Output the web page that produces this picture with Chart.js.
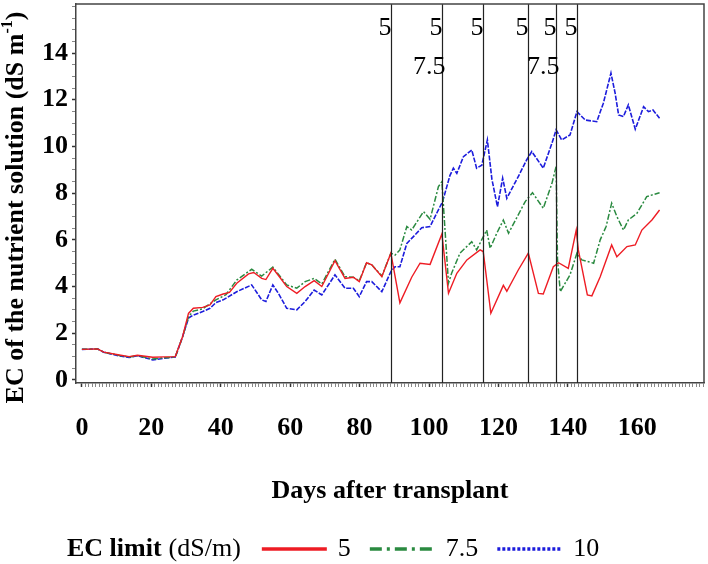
<!DOCTYPE html>
<html>
<head>
<meta charset="utf-8">
<script src="https://cdn.jsdelivr.net/npm/chart.js@4.4.1/dist/chart.umd.min.js"></script>
<style>
  html, body { margin: 0; padding: 0; background: #fff; }
  canvas { display: block; }
</style>
</head>
<body>
<canvas id="ecChart" width="708" height="564"></canvas>
<script>
// --- Data ---
const seriesLabels = ['5', '7.5', '10'];

// EC limit 5 dS/m
const daysEC5 = [0, 4.5, 6.3, 10.8, 13.6, 16, 20.4, 23.7, 26.9, 29,
  30.7, 32.1, 34.8, 36.9, 38.6, 40.7, 42.5, 44.6, 48, 49.5,
  51.8, 53, 55, 57, 59, 61.9, 64.3, 66.9, 69.1, 72.9,
  75.8, 78.2, 79.9, 82, 83.5, 86.4, 89, 91.6, 95, 97.4,
  100.3, 103.7, 105.6, 108, 110.9, 114.7, 115.6, 117.8, 121.4, 122.4,
  125.7, 128.6, 131.5, 132.9, 135.8, 137.3, 140.1, 142.4, 143, 145.6,
  146.9, 149.3, 152.6, 154.1, 157, 159.4, 161.3, 164.2, 166.4];
const valsEC5 = [1.31, 1.33, 1.19, 1.07, 1.0, 1.06, 0.97, 0.99, 1.0, 1.85,
  2.85, 3.07, 3.11, 3.21, 3.57, 3.68, 3.75, 4.14, 4.54, 4.6,
  4.35, 4.3, 4.78, 4.4, 4.0, 3.71, 4.0, 4.25, 4.0, 5.11,
  4.35, 4.4, 4.21, 5.02, 4.93, 4.42, 5.43, 3.3, 4.4, 5.0,
  4.95, 6.25, 3.71, 4.57, 5.14, 5.57, 5.5, 2.86, 4.05, 3.8,
  4.71, 5.43, 3.71, 3.68, 4.85, 5.02, 4.78, 6.42, 5.57, 3.64,
  3.6, 4.42, 5.78, 5.28, 5.71, 5.78, 6.42, 6.85, 7.28];

// EC limit 7.5 dS/m
const daysEC75 = [0, 4.5, 6.3, 10.8, 13.6, 16, 20.4, 23.7, 26.9, 29,
  30.7, 32.1, 34.8, 38.6, 41.5, 44.6, 48.9, 51.8, 55, 57,
  59, 61.9, 64.3, 66.9, 69.1, 72.9, 75.8, 78.2, 79.9, 82,
  83.5, 86.4, 89, 90.2, 91.6, 93.6, 95, 98.4, 100.3, 102.7,
  103.7, 105.6, 106.5, 108.9, 112.3, 113.7, 116.6, 117.6, 119.5, 121.4,
  122.9, 127.7, 129.8, 132.9, 135.4, 136.6, 137, 137.8, 140.6, 142.6,
  144, 147.4, 149.3, 151, 152.6, 154.1, 156, 157.4, 159.9, 162.7,
  166.4];
const valsEC75 = [1.31, 1.33, 1.19, 1.05, 0.98, 1.04, 0.9, 0.95, 0.98, 1.85,
  2.71, 2.95, 3.05, 3.43, 3.65, 4.28, 4.74, 4.45, 4.83, 4.45,
  4.07, 3.93, 4.21, 4.35, 4.11, 5.17, 4.42, 4.4, 4.25, 5.02,
  4.93, 4.45, 5.43, 5.35, 5.57, 6.57, 6.42, 7.21, 6.88, 8.28,
  8.49, 4.14, 4.57, 5.43, 5.92, 5.57, 6.42, 5.64, 6.28, 6.85,
  6.28, 7.64, 8.02, 7.35, 8.42, 9.14, 5.14, 3.78, 4.5, 5.43,
  5.14, 5.0, 6.0, 6.57, 7.57, 7.0, 6.42, 6.85, 7.14, 7.85,
  8.02];

// EC limit 10 dS/m
const daysEC10 = [0, 4.5, 6.3, 10.8, 13.6, 16, 20.4, 23.7, 26.9, 29,
  30.7, 32.1, 34.8, 36.9, 38.6, 40.7, 44.6, 48.9, 51.8, 53,
  55, 56.6, 59, 61.9, 64.3, 66.9, 69.1, 72.9, 75.8, 78.2,
  79.9, 82, 83.5, 86.4, 89, 90.2, 91.6, 93.6, 95.5, 97.9,
  100.3, 102.2, 103.9, 106, 107, 108, 109.9, 112.3, 113.7, 115.2,
  116.8, 118.1, 119.7, 121.2, 122.4, 125.7, 128.1, 129.6, 132.9, 135.4,
  136.6, 138.2, 140.6, 142.6, 145, 148.3, 150.2, 152.4, 153.6, 154.6,
  156, 157.4, 159.4, 161.8, 163.2, 164.5, 166.4];
const valsEC10 = [1.31, 1.33, 1.19, 1.03, 0.96, 1.04, 0.86, 0.93, 0.98, 1.85,
  2.65, 2.78, 2.93, 3.07, 3.31, 3.43, 3.78, 4.07, 3.43, 3.36,
  4.07, 3.71, 3.07, 3.0, 3.36, 3.85, 3.64, 4.5, 3.93, 3.93,
  3.57, 4.21, 4.21, 3.78, 4.64, 4.85, 4.85, 5.85, 6.14, 6.52,
  6.57, 7.14, 7.64, 8.75, 9.07, 8.85, 9.56, 9.85, 9.07, 9.2,
  10.28, 8.6, 7.42, 8.64, 7.78, 8.71, 9.42, 9.78, 9.07, 10.14,
  10.71, 10.28, 10.49, 11.49, 11.13, 11.06, 11.85, 13.14, 12.28, 11.35,
  11.28, 11.78, 10.74, 11.7, 11.49, 11.56, 11.21];

// days where the solution was renewed, with the limit(s) marked at the top
const limitDays = [89, 103.8, 115.6, 128.6, 136.6, 142.5];
const limitTopLabels = ['5', '5', '5', '5', '5', '5'];
const limitLowLabels = ['', '7.5', '', '', '7.5', ''];

const xTickLabels = [0, 20, 40, 60, 80, 100, 120, 140, 160];
const yTickLabels = [0, 2, 4, 6, 8, 10, 12, 14];

const legendTitle = 'EC limit';
const legendUnit = '(dS/m)';

// --- Helpers ---
const SERIF = '"Liberation Serif", "Times New Roman", serif';

function toPoints(days, vals) {
    return days.map((d, i) => ({ x: d, y: vals[i] }));
}

// no label padding around the plot box, the box is placed by layout only
function noLabelPadding(s) {
    s.paddingTop = 0;
    s.paddingBottom = 0;
    s.paddingLeft = 0;
    s.paddingRight = 0;
}

// extra drawing: renewal lines, frame, rotated y title, legend
const figureExtras = {
    id: 'figureExtras',
    afterDatasetsDraw(chart) {
        const { ctx, chartArea: a, scales: { x } } = chart;
        ctx.save();
        ctx.strokeStyle = '#222';
        ctx.lineWidth = 1.2;
        ctx.fillStyle = '#000';
        ctx.font = `26px ${SERIF}`;
        ctx.textAlign = 'right';
        ctx.textBaseline = 'middle';
        limitDays.forEach((d, i) => {
            const px = Math.round(x.getPixelForValue(d)) + 0.5;
            ctx.beginPath();
            ctx.moveTo(px, a.top);
            ctx.lineTo(px, a.bottom);
            ctx.stroke();
            ctx.fillText(limitTopLabels[i], px, a.top + 24);
            if (limitLowLabels[i]) ctx.fillText(limitLowLabels[i], px + 3, a.top + 63);
        });

        // top + right frame
        ctx.strokeStyle = '#444';
        ctx.lineWidth = 1.5;
        ctx.beginPath();
        ctx.moveTo(a.left, a.top);
        ctx.lineTo(a.right, a.top);
        ctx.lineTo(a.right, a.bottom);
        ctx.stroke();
        ctx.restore();
    },
    afterDraw(chart) {
        const { ctx, chartArea: a } = chart;

        // y axis title with superscript
        ctx.save();
        ctx.translate(16, (a.top + a.bottom) / 2 + 14);
        ctx.rotate(-Math.PI / 2);
        ctx.fillStyle = '#000';
        ctx.textBaseline = 'middle';
        ctx.textAlign = 'left';
        const main = 'EC of the nutrient solution (dS m';
        const sup = '-1';
        const close = ')';
        ctx.font = `bold 26px ${SERIF}`;
        const w1 = ctx.measureText(main).width;
        const w3 = ctx.measureText(close).width;
        ctx.font = `bold 16px ${SERIF}`;
        const w2 = ctx.measureText(sup).width;
        let cx = -(w1 + w2 + w3) / 2;
        ctx.font = `bold 26px ${SERIF}`;
        ctx.fillText(main, cx, 0);
        ctx.font = `bold 16px ${SERIF}`;
        ctx.fillText(sup, cx + w1, -8);
        ctx.font = `bold 26px ${SERIF}`;
        ctx.fillText(close, cx + w1 + w2, 0);
        ctx.restore();

        // legend
        ctx.save();
        const ly = 549;
        let lx = 67;
        ctx.fillStyle = '#000';
        ctx.textAlign = 'left';
        ctx.textBaseline = 'middle';
        ctx.font = `bold 26px ${SERIF}`;
        ctx.fillText(legendTitle, lx, ly);
        lx += ctx.measureText(legendTitle).width + 7;
        ctx.font = `26px ${SERIF}`;
        ctx.fillText(legendUnit, lx, ly);
        lx += ctx.measureText(legendUnit).width + 21;
        chart.data.datasets.forEach(ds => {
            ctx.strokeStyle = ds.borderColor;
            ctx.lineWidth = 3.5;
            ctx.setLineDash(ds.legendDash);
            ctx.beginPath();
            ctx.moveTo(lx, ly);
            ctx.lineTo(lx + 65, ly);
            ctx.stroke();
            ctx.setLineDash([]);
            lx += 65 + 11;
            ctx.fillText(ds.label, lx, ly);
            lx += ctx.measureText(ds.label).width + 19;
        });
        ctx.restore();
    }
};

// --- Chart ---
const ecChart = new Chart(document.getElementById('ecChart'), {
    type: 'line',
    data: {
        datasets: [
            {
                label: seriesLabels[0],
                data: toPoints(daysEC5, valsEC5),
                borderColor: '#ee1c24',
                borderWidth: 1.4,
                legendDash: []
            },
            {
                label: seriesLabels[1],
                data: toPoints(daysEC75, valsEC75),
                borderColor: '#2a8a40',
                borderWidth: 1.5,
                borderDash: [6, 2, 2, 2],
                legendDash: [12, 5, 3, 5]
            },
            {
                label: seriesLabels[2],
                data: toPoints(daysEC10, valsEC10),
                borderColor: '#1c1cdc',
                borderWidth: 1.6,
                borderDash: [5, 1.5],
                legendDash: [3, 2]
            }
        ]
    },
    options: {
        responsive: false,
        animation: false,
        devicePixelRatio: 1,
        elements: { point: { radius: 0 }, line: { tension: 0 } },
        layout: { padding: { top: 4, right: 4, bottom: 52, left: 0 } },
        plugins: { legend: { display: false }, tooltip: { enabled: false } },
        scales: {
            x: {
                type: 'linear',
                min: -1.7,
                max: 179.2,
                afterFit: s => { s.height = 129; noLabelPadding(s); },
                afterBuildTicks: s => {
                    s.ticks = s.ticks.filter(t => Number.isInteger(t.value) && t.value >= 0 && t.value <= 179);
                },
                ticks: {
                    stepSize: 1,
                    includeBounds: false,
                    autoSkip: false,
                    maxRotation: 0,
                    padding: 26,
                    color: '#000',
                    font: { family: SERIF, size: 26, weight: 'bold' },
                    callback: v => xTickLabels.includes(v) ? String(v) : ''
                },
                grid: {
                    drawOnChartArea: false,
                    tickLength: 4,
                    tickColor: c => xTickLabels.includes(c.tick && c.tick.value) ? '#333' : '#888',
                    tickWidth: c => xTickLabels.includes(c.tick && c.tick.value) ? 1.5 : 1
                },
                border: { color: '#444', width: 1.5 },
                title: {
                    display: true,
                    text: 'Days after transplant',
                    color: '#000',
                    font: { family: SERIF, size: 26, weight: 'bold' },
                    padding: { top: 0, bottom: 5 }
                }
            },
            y: {
                min: -0.13,
                max: 16.1,
                afterFit: s => { s.width = 76; noLabelPadding(s); },
                afterBuildTicks: s => {
                    s.ticks = s.ticks.filter(t => t.value >= 0 && t.value <= 16 &&
                        Math.abs(t.value * 2 - Math.round(t.value * 2)) < 1e-6);
                },
                ticks: {
                    stepSize: 0.5,
                    includeBounds: false,
                    autoSkip: false,
                    padding: 4,
                    color: '#000',
                    font: { family: SERIF, size: 26, weight: 'bold' },
                    callback: v => yTickLabels.includes(v) ? String(v) : ''
                },
                grid: {
                    drawOnChartArea: false,
                    tickLength: 4,
                    tickColor: c => yTickLabels.includes(c.tick && c.tick.value) ? '#333' : '#888',
                    tickWidth: c => yTickLabels.includes(c.tick && c.tick.value) ? 1.5 : 1
                },
                border: { color: '#444', width: 1.5 },
                title: { display: false }
            }
        }
    },
    plugins: [figureExtras]
});
</script>
</body>
</html>
